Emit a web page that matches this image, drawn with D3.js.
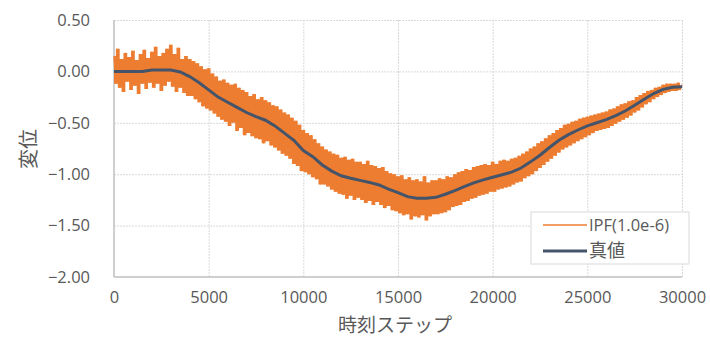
<!DOCTYPE html>
<html>
<head>
<meta charset="utf-8">
<script src="https://cdn.jsdelivr.net/npm/d3@7"></script>
<style>
  body { margin: 0; background: #fff; }
  svg { display: block; }
  .tick text { font-family: "Open Sans", "Noto Sans", sans-serif; fill: #595959; }
</style>
</head>
<body>
<svg id="chart" width="710" height="339"></svg>
<script>
'use strict';

// x ticks / y ticks
const xTicks = [0, 5000, 10000, 15000, 20000, 25000, 30000];
const yTicks = [-2.0, -1.5, -1.0, -0.5, 0.0, 0.5];

const seriesNames = ['IPF(1.0e-6)', '真値'];

// 真値: step every 500
const trueStep = 500;
const trueValues = [
  0.00, 0.00, 0.00, 0.00, 0.013, 0.013, 0.013, -0.005, -0.05, -0.11,
  -0.18, -0.25, -0.30, -0.35, -0.40, -0.44, -0.475, -0.53, -0.60, -0.67,
  -0.77, -0.83, -0.91, -0.97, -1.015, -1.04, -1.06, -1.08, -1.105, -1.145,
  -1.18, -1.218, -1.233, -1.233, -1.225, -1.195, -1.16, -1.12, -1.085, -1.055,
  -1.03, -1.005, -0.98, -0.94, -0.88, -0.815, -0.74, -0.67, -0.615, -0.57,
  -0.53, -0.50, -0.47, -0.43, -0.385, -0.33, -0.27, -0.215, -0.175, -0.155,
  -0.15
];

// IPF(1.0e-6): read every 100 steps
const ipfStep = 100;
const ipfValues = [
  0.15, -0.12, 0.22, -0.16, 0.12, -0.20, 0.18, -0.10, 0.14, -0.18,
  0.20, -0.14, 0.11, -0.22, 0.17, -0.12, 0.21, -0.17, 0.13, -0.11,
  0.19, -0.16, 0.24, -0.12, 0.15, -0.19, 0.18, -0.14, 0.22, -0.10,
  0.26, -0.15, 0.17, -0.20, 0.23, -0.16, 0.12, -0.21, 0.15, -0.24,
  0.12, -0.24, 0.10, -0.27, 0.08, -0.30, 0.05, -0.34, 0.02, -0.36,
  0.03, -0.38, -0.02, -0.41, -0.05, -0.44, -0.09, -0.47, -0.08, -0.49,
  -0.11, -0.53, -0.13, -0.50, -0.12, -0.58, -0.16, -0.55, -0.18, -0.62,
  -0.20, -0.60, -0.24, -0.63, -0.22, -0.65, -0.27, -0.66, -0.25, -0.70,
  -0.28, -0.68, -0.30, -0.72, -0.33, -0.74, -0.34, -0.77, -0.37, -0.80,
  -0.40, -0.82, -0.42, -0.85, -0.45, -0.90, -0.48, -0.92, -0.52, -0.97,
  -0.57, -0.98, -0.60, -1.00, -0.62, -1.03, -0.66, -1.05, -0.70, -1.10,
  -0.73, -1.10, -0.76, -1.12, -0.78, -1.15, -0.80, -1.17, -0.81, -1.19,
  -0.84, -1.20, -0.83, -1.24, -0.86, -1.21, -0.85, -1.25, -0.88, -1.23,
  -0.88, -1.25, -0.90, -1.28, -0.87, -1.26, -0.91, -1.30, -0.92, -1.27,
  -0.94, -1.30, -0.93, -1.33, -0.97, -1.31, -0.99, -1.35, -1.00, -1.36,
  -1.02, -1.38, -1.01, -1.40, -1.05, -1.39, -1.03, -1.44, -1.06, -1.41,
  -1.05, -1.42, -1.07, -1.40, -1.02, -1.45, -1.08, -1.41, -1.06, -1.39,
  -1.06, -1.39, -1.04, -1.38, -1.05, -1.37, -1.02, -1.35, -1.03, -1.32,
  -1.00, -1.31, -0.98, -1.30, -0.97, -1.27, -0.95, -1.26, -0.96, -1.24,
  -0.93, -1.23, -0.92, -1.21, -0.91, -1.20, -0.90, -1.19, -0.91, -1.17,
  -0.88, -1.17, -0.90, -1.15, -0.87, -1.14, -0.86, -1.13, -0.87, -1.12,
  -0.85, -1.10, -0.84, -1.08, -0.82, -1.07, -0.80, -1.04, -0.78, -1.02,
  -0.75, -1.00, -0.73, -0.97, -0.70, -0.94, -0.68, -0.91, -0.65, -0.88,
  -0.62, -0.85, -0.60, -0.82, -0.57, -0.79, -0.55, -0.76, -0.52, -0.74,
  -0.51, -0.72, -0.49, -0.70, -0.48, -0.68, -0.46, -0.66, -0.45, -0.64,
  -0.44, -0.62, -0.43, -0.60, -0.42, -0.58, -0.41, -0.57, -0.40, -0.56,
  -0.39, -0.55, -0.37, -0.53, -0.36, -0.51, -0.34, -0.49, -0.32, -0.47,
  -0.31, -0.45, -0.29, -0.43, -0.28, -0.40, -0.25, -0.38, -0.23, -0.35,
  -0.21, -0.32, -0.19, -0.30, -0.18, -0.27, -0.16, -0.25, -0.15, -0.23,
  -0.13, -0.21, -0.12, -0.20, -0.12, -0.19, -0.12, -0.19, -0.11, -0.18,
  -0.13
];

const orange = '#ed7d31';
const navy = '#44546a';
const gridColor = '#d9d9d9';
const textColor = '#595959';

const svg = d3.select('#chart');
const plotLeft = 114, plotRight = 682, plotTop = 20, plotBottom = 277;

const x = d3.scaleLinear().domain([0, 30000]).range([plotLeft, plotRight]);
const y = d3.scaleLinear().domain([-2, 0.5]).range([plotBottom, plotTop]);

// grid lines
svg.append('g')
  .attr('transform', `translate(0,${plotBottom})`)
  .call(d3.axisBottom(x).tickValues(xTicks.slice(1)).tickSize(-(plotBottom - plotTop)).tickFormat(''))
  .call(g => g.select('.domain').remove())
  .call(g => g.selectAll('line').attr('stroke', gridColor).attr('stroke-dasharray', '2,1'));

svg.append('g')
  .attr('transform', `translate(${plotLeft},0)`)
  .call(d3.axisLeft(y).tickValues(yTicks.slice(1)).tickSize(-(plotRight - plotLeft)).tickFormat(''))
  .call(g => g.select('.domain').remove())
  .call(g => g.selectAll('line').attr('stroke', gridColor).attr('stroke-dasharray', '2,1'));

// axis lines
svg.append('line').attr('x1', plotLeft).attr('x2', plotLeft).attr('y1', plotTop).attr('y2', plotBottom)
  .attr('stroke', '#bfbfbf').attr('stroke-width', 1.5);
svg.append('line').attr('x1', plotLeft).attr('x2', plotRight).attr('y1', plotBottom).attr('y2', plotBottom)
  .attr('stroke', '#bfbfbf').attr('stroke-width', 1.5);

// tick labels
svg.append('g')
  .attr('transform', `translate(0,${plotBottom})`)
  .call(d3.axisBottom(x).tickValues(xTicks).tickSize(0).tickPadding(14).tickFormat(d3.format('d')))
  .call(g => g.select('.domain').remove())
  .call(g => g.selectAll('text').attr('font-size', 16.5));

svg.append('g')
  .attr('transform', `translate(${plotLeft},0)`)
  .call(d3.axisLeft(y).tickValues(yTicks).tickSize(0).tickPadding(24).tickFormat(d3.format('.2f')))
  .call(g => g.select('.domain').remove())
  .call(g => g.selectAll('text').attr('font-size', 16.5));

// series
const ipfData = ipfValues.map((v, i) => [i * ipfStep, v]);
const trueData = trueValues.map((v, i) => [i * trueStep, v]);
const line = d3.line().x(d => x(d[0])).y(d => y(d[1]));

// a dense line fills each pixel column between neighbouring samples
const ipfSpan = ipfData.slice(0, -1).map((d, i) => {
  const nxt = ipfData[i + 1];
  return { x: d[0], lo: Math.min(d[1], nxt[1]), hi: Math.max(d[1], nxt[1]) };
});
svg.append('path').datum(ipfSpan)
  .attr('d', d3.area().curve(d3.curveStepAfter)
    .x(d => x(d.x)).y0(d => y(d.lo)).y1(d => y(d.hi)))
  .attr('fill', orange);

svg.append('path').datum(ipfData)
  .attr('d', line).attr('fill', 'none')
  .attr('stroke', orange).attr('stroke-width', 1.4).attr('stroke-linejoin', 'bevel');

svg.append('path').datum(trueData)
  .attr('d', line).attr('fill', 'none')
  .attr('stroke', navy).attr('stroke-width', 3);

// axis titles
svg.append('text')
  .attr('x', 395).attr('y', 332)
  .attr('text-anchor', 'middle')
  .attr('font-family', '"Noto Sans CJK JP", sans-serif')
  .attr('font-size', 19).attr('fill', textColor)
  .text('時刻ステップ');

svg.append('text')
  .attr('transform', 'translate(36,149) rotate(-90)')
  .attr('text-anchor', 'middle')
  .attr('font-family', '"Noto Sans CJK JP", sans-serif')
  .attr('font-size', 20).attr('fill', textColor)
  .text('変位');

// legend
const legend = svg.append('g');
legend.append('rect')
  .attr('x', 531).attr('y', 212).attr('width', 158).attr('height', 52)
  .attr('fill', '#fff').attr('stroke', gridColor);

const legendRows = [
  { name: seriesNames[0], color: orange, width: 1.6, yy: 225, size: 16.5 },
  { name: seriesNames[1], color: navy, width: 3, yy: 251, size: 18 }
];
legendRows.forEach(r => {
  legend.append('line')
    .attr('x1', 543).attr('x2', 587).attr('y1', r.yy).attr('y2', r.yy)
    .attr('stroke', r.color).attr('stroke-width', r.width);
  legend.append('text')
    .attr('x', 589).attr('y', r.yy).attr('dy', '0.35em')
    .attr('font-family', '"Open Sans", "Noto Sans CJK JP", sans-serif')
    .attr('font-size', r.size).attr('fill', textColor)
    .text(r.name);
});
</script>
</body>
</html>
